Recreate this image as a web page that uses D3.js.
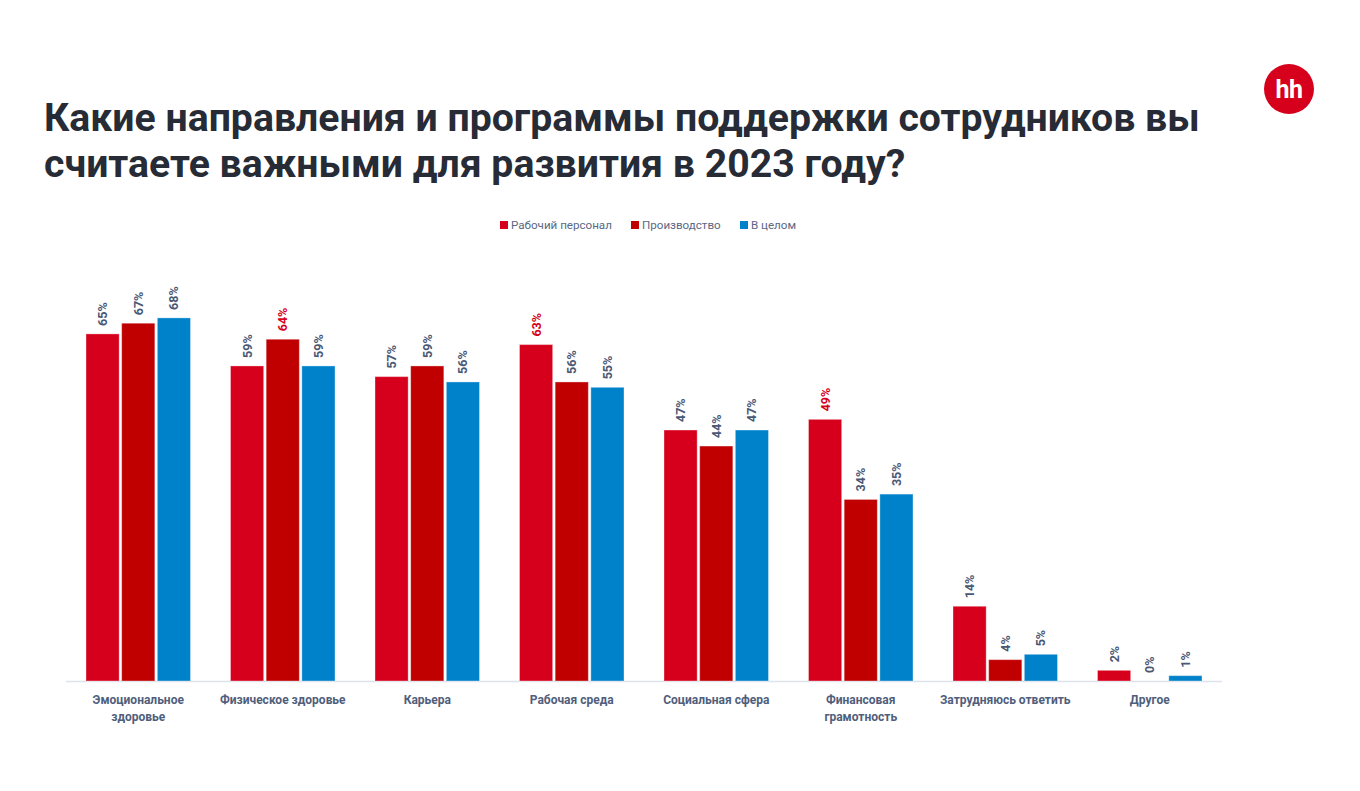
<!DOCTYPE html>
<html><head><meta charset="utf-8">
<script src="https://cdn.jsdelivr.net/npm/d3@7"></script>
<style>body{margin:0;background:#fff;}svg{display:block;font-family:Roboto,"Noto Sans",sans-serif;}</style>
</head><body><svg id="c" width="1360" height="791"></svg>
<script>
const titleLines = ["Какие направления и программы поддержки сотрудников вы","считаете важными для развития в 2023 году?"];
const categories = [["Эмоциональное","здоровье"],["Физическое здоровье"],["Карьера"],["Рабочая среда"],["Социальная сфера"],["Финансовая","грамотность"],["Затрудняюсь ответить"],["Другое"]];
const seriesNames = ["Рабочий персонал","Производство","В целом"];
const seriesColors = ["#d6001c","#c00000","#0082ca"];
const workers = [65,59,57,63,47,49,14,2];
const production = [67,64,59,56,44,34,4,0];
const overall = [68,59,56,55,47,35,5,1];
// highlighted labels: [categoryIndex, seriesIndex]
const highlights = [[1,1],[3,0],[5,0]];

const series = [workers, production, overall];
const svg = d3.select("#c");

// Title
const tg = svg.append("g");
titleLines.forEach((t,i)=>{
  tg.append("text").attr("x",44).attr("y",131+i*46).text(t)
    .attr("font-size",38).attr("font-weight",700).attr("fill","#262b36");
});
const first = tg.select("text").node();
const w = first.getComputedTextLength();
const fs = 38*1156/w;
tg.selectAll("text").attr("font-size",fs);

// Logo
svg.append("circle").attr("cx",1289).attr("cy",89).attr("r",25).attr("fill","#d6001c");
svg.append("text").attr("x",1289).attr("y",98).attr("text-anchor","middle")
  .attr("font-size",25).attr("font-weight",700).attr("fill","#fff").attr("letter-spacing",-0.5).text("hh");

// Legend
const legX = [500,631,740];
seriesNames.forEach((n,i)=>{
  svg.append("rect").attr("x",legX[i]).attr("y",221).attr("width",8).attr("height",8).attr("fill",seriesColors[i]);
  svg.append("text").attr("x",legX[i]+11).attr("y",229).text(n)
    .attr("font-size",11.6).attr("fill","#5a6885");
});

// Scales
const x0 = d3.scaleBand().domain(d3.range(categories.length)).range([66,1222]).paddingInner(0).paddingOuter(0);
const x1 = d3.scaleBand().domain(d3.range(3)).range([20,124.5]).paddingInner(0.07);
const y = d3.scaleLinear().domain([0,100]).range([681,147]);

// baseline
svg.append("line").attr("x1",66).attr("x2",1222).attr("y1",681.5).attr("y2",681.5).attr("stroke","#dde3ea").attr("stroke-width",1.5);

const g = svg.append("g");
categories.forEach((cat,ci)=>{
  series.forEach((s,si)=>{
    const v = s[ci];
    const bx = x0(ci)+x1(si);
    if (v>0) g.append("rect").attr("x",bx).attr("y",y(v)).attr("width",x1.bandwidth()).attr("height",y(0)-y(v))
      .attr("fill",seriesColors[si]).attr("stroke","#fff").attr("stroke-opacity",0.35).attr("stroke-width",1);
    const hl = highlights.some(h=>h[0]===ci&&h[1]===si);
    const lx = bx + x1.bandwidth()/2 + 4.5;
    const ly = y(v) - 8;
    g.append("text").attr("transform",`translate(${lx},${ly}) rotate(-90)`).text(v+"%")
      .attr("font-size",12.5).attr("font-weight",700).attr("fill",hl?"#d6001c":"#4a5875");
  });
  const cx = x0(ci)+x0.bandwidth()/2;
  cat.forEach((line,li)=>{
    g.append("text").attr("x",cx).attr("y",704+li*17).attr("text-anchor","middle").text(line)
      .attr("font-size",12).attr("font-weight",700).attr("fill","#4f5e7b");
  });
});
</script></body></html>
